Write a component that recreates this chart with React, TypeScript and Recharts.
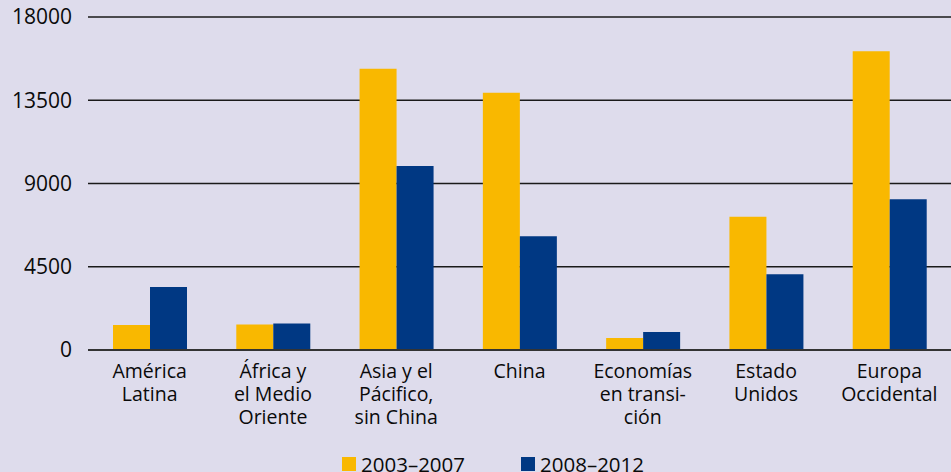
import { BarChart, Bar, XAxis, YAxis, CartesianGrid, Legend } from "recharts";

const regions = [
  "América\nLatina",
  "África y\nel Medio\nOriente",
  "Asia y el\nPácifico,\nsin China",
  "China",
  "Economías\nen transi-\nción",
  "Estado\nUnidos",
  "Europa\nOccidental",
];
const period1 = [1350, 1380, 15200, 13900, 650, 7200, 16150];
const period2 = [3400, 1430, 9950, 6150, 970, 4100, 8150];
const yTicks = [0, 4500, 9000, 13500, 18000];
const seriesNames = ["2003–2007", "2008–2012"];

const YELLOW = "#f9b800";
const BLUE = "#003883";
const BG = "#dedcec";
const FONT = "'Open Sans', Lato, sans-serif";

const data = regions.map((region, i) => ({
  region,
  p1: period1[i],
  p2: period2[i],
}));

function RegionTick({ x, y, payload }: any) {
  const lines = String(payload.value).split("\n");
  return (
    <text x={x} y={y} textAnchor="middle" fill="#0a0a0a" fontSize={19.5} fontFamily={FONT}>
      {lines.map((line, i) => (
        <tspan key={i} x={x} dy={i === 0 ? 20 : 23}>
          {line}
        </tspan>
      ))}
    </text>
  );
}

function LegendBox() {
  const items = [
    { name: seriesNames[0], color: YELLOW },
    { name: seriesNames[1], color: BLUE },
  ];
  return (
    <div style={{ display: "flex", paddingLeft: 342, height: 28, fontFamily: FONT, fontSize: 20.5, color: "#0a0a0a", lineHeight: "16px" }}>
      {items.map((it, i) => (
        <div key={i} style={{ display: "flex", alignItems: "center", width: 179, marginTop: 12, height: 16 }}>
          <span style={{ width: 14, height: 14, background: it.color, marginRight: 5, display: "inline-block", flex: "none" }} />
          <span>{it.name}</span>
        </div>
      ))}
    </div>
  );
}

export default function App() {
  return (
    <div style={{ position: "absolute", left: 0, top: 0, width: 951, height: 472, background: BG }}>
      <BarChart
        width={951}
        height={472}
        data={data}
        margin={{ top: 17, right: 0, left: 0, bottom: 0 }}
        barGap={0}
        barSize={37}
      >
        <CartesianGrid vertical={false} stroke="#1a1a1a" strokeWidth={1.5} />
        <XAxis
          dataKey="region"
          height={94}
          interval={0}
          tick={<RegionTick />}
          tickLine={false}
          axisLine={{ stroke: "#333", strokeWidth: 2 }}
        />
        <YAxis
          width={88}
          domain={[0, 18000]}
          ticks={yTicks}
          tickLine={false}
          axisLine={false}
          tickSize={0}
          tickMargin={16}
          tick={{ fill: "#0a0a0a", fontSize: 21, fontFamily: FONT }}
        />
        <Legend
          verticalAlign="bottom"
          wrapperStyle={{ left: 0, width: 951, height: 28 }}
          content={() => <LegendBox />}
        />
        <Bar dataKey="p1" name={seriesNames[0]} fill={YELLOW} isAnimationActive={false} />
        <Bar dataKey="p2" name={seriesNames[1]} fill={BLUE} isAnimationActive={false} />
      </BarChart>
    </div>
  );
}
